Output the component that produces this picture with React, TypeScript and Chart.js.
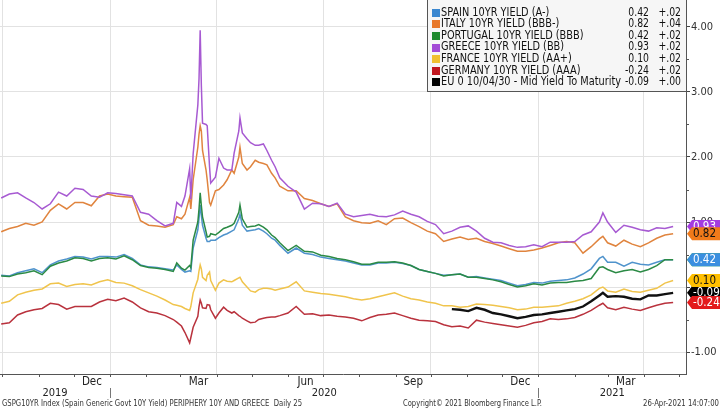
import React, { useEffect, useRef } from "react";
import { Chart, registerables } from "chart.js";

Chart.register(...registerables);

// ---------------- DATA ----------------
const dates: string[] = [
  "2019-09-30", "2019-10-07", "2019-10-14", "2019-10-21", "2019-10-28", "2019-11-04", "2019-11-11", "2019-11-18",
  "2019-11-25", "2019-12-02", "2019-12-09", "2019-12-16", "2019-12-23", "2019-12-30", "2020-01-06", "2020-01-13",
  "2020-01-20", "2020-01-27", "2020-02-03", "2020-02-10", "2020-02-17", "2020-02-24",
  "2020-02-27", "2020-03-02", "2020-03-05", "2020-03-09", "2020-03-10", "2020-03-12", "2020-03-16", "2020-03-17",
  "2020-03-18", "2020-03-19", "2020-03-20", "2020-03-23", "2020-03-24", "2020-03-26", "2020-03-27", "2020-03-31",
  "2020-04-03", "2020-04-07", "2020-04-10", "2020-04-14", "2020-04-16", "2020-04-20", "2020-04-21", "2020-04-23",
  "2020-04-27", "2020-04-30", "2020-05-04", "2020-05-07", "2020-05-11", "2020-05-14", "2020-05-18", "2020-05-21",
  "2020-05-25", "2020-06-01", "2020-06-08", "2020-06-15", "2020-06-22", "2020-06-29", "2020-07-06", "2020-07-13",
  "2020-07-20", "2020-07-27", "2020-08-03", "2020-08-10", "2020-08-17", "2020-08-24", "2020-08-31", "2020-09-07",
  "2020-09-14", "2020-09-21", "2020-09-28", "2020-10-05", "2020-10-12",
  "2020-10-19", "2020-10-26", "2020-11-02", "2020-11-09", "2020-11-16", "2020-11-23", "2020-11-30", "2020-12-07",
  "2020-12-14", "2020-12-21", "2020-12-28", "2021-01-04", "2021-01-11", "2021-01-18", "2021-01-25", "2021-02-01",
  "2021-02-08", "2021-02-15", "2021-02-22", "2021-02-25", "2021-03-01", "2021-03-08", "2021-03-15", "2021-03-22",
  "2021-03-29", "2021-04-05", "2021-04-12", "2021-04-19", "2021-04-26",
];

const spain: number[] = [
  0.18, 0.17, 0.22, 0.25, 0.28, 0.22, 0.34, 0.40, 0.43, 0.47, 0.46, 0.43, 0.47, 0.47, 0.46, 0.50, 0.44, 0.34, 0.31, 0.30, 0.28, 0.26,
  0.34, 0.27, 0.23, 0.25, 0.24, 0.60, 0.88, 1.05, 1.26, 1.10, 0.95, 0.75, 0.70, 0.70, 0.72, 0.72, 0.76, 0.80, 0.82, 0.86, 0.88, 1.05, 1.12, 0.95,
  0.86, 0.87, 0.88, 0.90, 0.86, 0.82, 0.75, 0.72, 0.64, 0.52, 0.60, 0.52, 0.50, 0.46, 0.44, 0.42, 0.40, 0.37, 0.34, 0.34, 0.37, 0.37, 0.38, 0.36, 0.33, 0.27, 0.24, 0.21, 0.18,
  0.19, 0.20, 0.15, 0.16, 0.14, 0.12, 0.10, 0.06, 0.02, 0.04, 0.07, 0.06, 0.09, 0.10, 0.11, 0.14, 0.20, 0.28, 0.44, 0.47, 0.38, 0.38, 0.32, 0.38, 0.35, 0.34, 0.38, 0.42, 0.42,
];
const italy: number[] = [
  0.85, 0.90, 0.93, 0.98, 0.95, 1.00, 1.18, 1.28, 1.20, 1.30, 1.30, 1.25, 1.40, 1.43, 1.40, 1.39, 1.38, 1.02, 0.95, 0.94, 0.92, 0.96,
  1.08, 1.05, 1.12, 1.38, 1.20, 1.65, 2.15, 2.35, 2.48, 2.40, 2.10, 1.80, 1.65, 1.30, 1.26, 1.48, 1.50, 1.57, 1.65, 1.80, 1.75, 2.00, 2.15, 1.90,
  1.80, 1.85, 1.95, 1.92, 1.90, 1.88, 1.75, 1.68, 1.55, 1.48, 1.48, 1.36, 1.33, 1.28, 1.24, 1.28, 1.08, 1.02, 0.99, 0.98, 1.02, 0.96, 1.05, 1.06, 0.99, 0.93, 0.86, 0.82, 0.70,
  0.74, 0.77, 0.73, 0.75, 0.70, 0.67, 0.63, 0.59, 0.55, 0.55, 0.57, 0.60, 0.64, 0.68, 0.70, 0.68, 0.52, 0.62, 0.74, 0.78, 0.68, 0.63, 0.72, 0.66, 0.62, 0.68, 0.75, 0.80, 0.82,
];
const portugal: number[] = [
  0.17, 0.16, 0.20, 0.22, 0.25, 0.19, 0.32, 0.37, 0.40, 0.45, 0.44, 0.40, 0.44, 0.45, 0.43, 0.48, 0.42, 0.33, 0.30, 0.29, 0.27, 0.24,
  0.37, 0.29, 0.26, 0.33, 0.30, 0.72, 1.00, 1.20, 1.45, 1.25, 1.08, 0.85, 0.77, 0.78, 0.82, 0.80, 0.84, 0.90, 0.92, 0.95, 0.98, 1.15, 1.26, 1.05,
  0.92, 0.93, 0.94, 0.96, 0.92, 0.88, 0.80, 0.76, 0.68, 0.56, 0.64, 0.55, 0.54, 0.49, 0.47, 0.44, 0.42, 0.39, 0.35, 0.35, 0.38, 0.38, 0.39, 0.37, 0.33, 0.27, 0.24, 0.21, 0.17,
  0.19, 0.20, 0.15, 0.15, 0.13, 0.11, 0.08, 0.04, 0.00, 0.02, 0.05, 0.03, 0.06, 0.07, 0.07, 0.09, 0.10, 0.13, 0.30, 0.31, 0.27, 0.22, 0.25, 0.27, 0.23, 0.27, 0.33, 0.42, 0.42,
];
const greece: number[] = [
  1.37, 1.43, 1.45, 1.37, 1.30, 1.20, 1.28, 1.46, 1.40, 1.52, 1.50, 1.40, 1.38, 1.45, 1.44, 1.42, 1.40, 1.15, 1.12, 1.02, 0.94, 0.98,
  1.30, 1.24, 1.40, 1.82, 1.35, 2.05, 2.80, 3.20, 3.95, 3.10, 2.52, 2.50, 2.48, 1.85, 1.60, 1.69, 1.98, 1.83, 1.80, 1.80, 2.06, 2.40, 2.60, 2.37,
  2.28, 2.22, 2.18, 2.18, 2.20, 2.10, 1.95, 1.85, 1.68, 1.55, 1.46, 1.20, 1.29, 1.28, 1.24, 1.29, 1.12, 1.08, 1.10, 1.12, 1.09, 1.08, 1.11, 1.17, 1.12, 1.08, 1.01, 0.96, 0.82,
  0.86, 0.92, 0.94, 0.86, 0.75, 0.69, 0.68, 0.64, 0.61, 0.62, 0.65, 0.62, 0.69, 0.69, 0.69, 0.70, 0.80, 0.85, 1.00, 1.14, 1.00, 0.84, 0.95, 0.92, 0.88, 0.86, 0.91, 0.90, 0.93,
];
const france: number[] = [
  -0.25, -0.22, -0.12, -0.08, -0.05, -0.03, 0.05, 0.06, 0.01, 0.04, 0.05, 0.03, 0.08, 0.11, 0.07, 0.06, 0.02, -0.04, -0.09, -0.14, -0.20, -0.27,
  -0.28, -0.30, -0.33, -0.36, -0.30, -0.09, 0.12, 0.25, 0.34, 0.28, 0.15, 0.10, 0.18, 0.23, 0.10, -0.05, 0.06, 0.11, 0.09, 0.08, 0.10, 0.14, 0.15, 0.08,
  0.00, -0.06, -0.08, -0.04, -0.02, -0.02, -0.03, -0.05, -0.03, 0.00, 0.08, -0.06, -0.08, -0.10, -0.11, -0.13, -0.15, -0.18, -0.20, -0.18, -0.15, -0.12, -0.09, -0.14, -0.18, -0.20, -0.23, -0.25, -0.29,
  -0.29, -0.31, -0.30, -0.26, -0.27, -0.28, -0.30, -0.32, -0.35, -0.34, -0.31, -0.31, -0.30, -0.29, -0.25, -0.22, -0.18, -0.12, -0.02, 0.00, -0.06, -0.08, -0.03, -0.07, -0.08, -0.05, -0.02, 0.06, 0.10,
];
const germany: number[] = [
  -0.57, -0.55, -0.43, -0.38, -0.35, -0.33, -0.25, -0.27, -0.34, -0.30, -0.30, -0.30, -0.23, -0.19, -0.21, -0.17, -0.23, -0.32, -0.38, -0.40, -0.44, -0.50,
  -0.54, -0.60, -0.70, -0.86, -0.78, -0.62, -0.45, -0.30, -0.20, -0.25, -0.32, -0.33, -0.27, -0.28, -0.35, -0.48, -0.40, -0.31, -0.36, -0.40, -0.38, -0.44, -0.45, -0.48,
  -0.52, -0.55, -0.54, -0.50, -0.48, -0.47, -0.46, -0.46, -0.44, -0.40, -0.30, -0.42, -0.41, -0.44, -0.43, -0.45, -0.46, -0.48, -0.52, -0.47, -0.43, -0.42, -0.40, -0.44, -0.48, -0.51, -0.52, -0.53, -0.58,
  -0.61, -0.60, -0.63, -0.51, -0.54, -0.56, -0.58, -0.60, -0.62, -0.59, -0.55, -0.53, -0.49, -0.50, -0.49, -0.47, -0.42, -0.36, -0.28, -0.25, -0.32, -0.35, -0.31, -0.34, -0.36, -0.32, -0.28, -0.25, -0.24,
];
// EU bond series begins later than the others
const euFirstDate = "2020-10-19";
const euBond: number[] = [
  -0.34, -0.35, -0.37, -0.32, -0.35, -0.40, -0.42, -0.45, -0.48, -0.46, -0.43, -0.42, -0.40, -0.38, -0.36,
  -0.34, -0.30, -0.22, -0.13, -0.09, -0.15, -0.14, -0.15, -0.18, -0.19, -0.13, -0.13, -0.11, -0.09,
];

const seriesNames = [
  "SPAIN 10YR YIELD (A-)",
  "ITALY 10YR YIELD (BBB-)",
  "PORTUGAL 10YR YIELD (BBB)",
  "GREECE 10YR YIELD (BB)",
  "FRANCE 10YR YIELD (AA+)",
  "GERMANY 10YR YIELD (AAA)",
  "EU 0 10/04/30 - Mid Yield To Maturity",
];
const lastValues = ["0.42", "0.82", "0.42", "0.93", "0.10", "-0.24", "-0.09"];
const netChanges = ["+.02", "+.04", "+.02", "+.02", "+.02", "+.02", "+.00"];

const monthLabels = ["Dec", "Mar", "Jun", "Sep", "Dec", "Mar"];
const monthLabelMonths = ["2019-12", "2020-03", "2020-06", "2020-09", "2020-12", "2021-03"];
const yearLabels = ["2019", "2020", "2021"];
const yearStarts = ["2020-01-01", "2021-01-01"];
const quarterStarts = ["2019-10-01", "2020-01-01", "2020-04-01", "2020-07-01", "2020-10-01", "2021-01-01", "2021-04-01"];
const yTickValues = [-1, 0, 1, 2, 3, 4];
const yMinorTicks = [-0.5, 0.5, 1.5, 2.5, 3.5];
const xStart = "2019-09-29";
const xEnd = "2021-05-07";
const yMin = -1.338;
const yMax = 4.415;

const footerLeft = "GSPG10YR Index (Spain Generic Govt 10Y Yield) PERIPHERY 10Y AND GREECE  Daily 25";
const footerCenter = "Copyright\u00A9 2021 Bloomberg Finance L.P.";
const footerRight = "26-Apr-2021 14:07:00";

// ---------------- STYLE ----------------
const lineColors = ["#4f93cc", "#e0843e", "#2b8a45", "#a75ad2", "#f0c44c", "#b9323d", "#111111"];
const keyColors = ["#3a87d0", "#e8782a", "#1e8a2e", "#a34ad6", "#f0c030", "#c0161e", "#000000"];
const tagColors = ["#3b8fe0", "#f07a1a", "#1e9e3a", "#a43ce0", "#ffbf00", "#e31a1c", "#000000"];
const tagText = ["#fff", "#111", "#fff", "#fff", "#111", "#fff", "#fff"];
const FONT = '"DejaVu Sans Condensed", "DejaVu Sans", "Liberation Sans", sans-serif';

const DAY0 = Date.UTC(2020, 0, 1);
function dayOf(s: string): number {
  const p = s.split("-").map(Number);
  return (Date.UTC(p[0], p[1] - 1, p[2] || 1) - DAY0) / 86400000;
}

function drawScaled(ctx: CanvasRenderingContext2D, text: string, x: number, y: number, sx: number, align: CanvasTextAlign) {
  ctx.save();
  ctx.translate(x, y);
  ctx.scale(sx, 1);
  ctx.textAlign = align;
  ctx.fillText(text, 0, 0);
  ctx.restore();
}

const overlayPlugin = {
  id: "bbgOverlay",
  beforeDraw(chart: any) {
    const { ctx, width, height } = chart;
    ctx.save();
    ctx.fillStyle = "#ffffff";
    ctx.fillRect(0, 0, width, height);
    ctx.restore();
  },
  afterDraw(chart: any) {
    const ctx: CanvasRenderingContext2D = chart.ctx;
    const xs = chart.scales.x;
    const ys = chart.scales.y;
    const { bottom, right } = chart.chartArea;
    const W = chart.width;
    ctx.save();
    ctx.textBaseline = "middle";

    // month ticks on x axis
    ctx.strokeStyle = "#555";
    ctx.lineWidth = 1;
    const dMin = dayOf(xStart), dMax = dayOf(xEnd);
    for (let k = 0; k < 22; k++) {
      const yy = 2019 + Math.floor((9 + k) / 12);
      const mm = (9 + k) % 12;
      const d = (Date.UTC(yy, mm, 1) - DAY0) / 86400000;
      if (d < dMin || d > dMax) continue;
      const px = Math.round(xs.getPixelForValue(d)) + 0.5;
      ctx.beginPath();
      ctx.moveTo(px, bottom);
      ctx.lineTo(px, bottom + 3);
      ctx.stroke();
    }

    // month labels (centered on the month)
    ctx.fillStyle = "#222";
    ctx.font = `11.5px ${FONT}`;
    ctx.textAlign = "center";
    monthLabelMonths.forEach((m, i) => {
      const p = m.split("-").map(Number);
      const a = (Date.UTC(p[0], p[1] - 1, 1) - DAY0) / 86400000;
      const b = (Date.UTC(p[0], p[1], 1) - DAY0) / 86400000;
      ctx.fillText(monthLabels[i], xs.getPixelForValue((a + b) / 2), bottom + 8);
    });

    // year labels and separators
    const bounds = [dMin, ...yearStarts.map(dayOf), dMax];
    ctx.font = `11px ${FONT}`;
    yearLabels.forEach((y, i) => {
      const cx = (xs.getPixelForValue(bounds[i]) + xs.getPixelForValue(bounds[i + 1])) / 2;
      ctx.fillText(y, cx, bottom + 19);
    });
    ctx.strokeStyle = "#777";
    yearStarts.forEach((s) => {
      const px = Math.round(xs.getPixelForValue(dayOf(s))) + 0.5;
      ctx.beginPath();
      ctx.moveTo(px, bottom + 14);
      ctx.lineTo(px, bottom + 24);
      ctx.stroke();
    });

    // footer
    ctx.fillStyle = "#333";
    ctx.font = `8px ${FONT}`;
    const fl = ctx.measureText(footerLeft).width;
    drawScaled(ctx, footerLeft, 2, bottom + 30, 300 / fl, "left");
    const fc = ctx.measureText(footerCenter).width;
    drawScaled(ctx, footerCenter, 403, bottom + 30, 139 / fc, "left");
    const fr = ctx.measureText(footerRight).width;
    drawScaled(ctx, footerRight, W - 1, bottom + 30, 76 / fr, "right");

    // minor y ticks
    ctx.strokeStyle = "#555";
    yMinorTicks.forEach((v) => {
      const py = Math.round(ys.getPixelForValue(v)) + 0.5;
      ctx.beginPath();
      ctx.moveTo(right, py);
      ctx.lineTo(right + 3, py);
      ctx.stroke();
    });

    // legend box
    const lx = 427.5, ly = -0.5, lw = right - 427, lh = 92;
    ctx.fillStyle = "#f6f6f6";
    ctx.fillRect(lx, ly, lw, lh);
    ctx.strokeStyle = "#555";
    ctx.strokeRect(lx, ly, lw, lh);
    ctx.font = `11.5px ${FONT}`;
    const sx = 180 / ctx.measureText(seriesNames[6]).width;
    seriesNames.forEach((name, i) => {
      const cy = 12.7 + i * 11.6;
      ctx.fillStyle = keyColors[i];
      ctx.fillRect(432, Math.round(cy - 4), 8, 8);
      ctx.fillStyle = "#111";
      drawScaled(ctx, name, 441, cy, sx, "left");
      drawScaled(ctx, lastValues[i], 649, cy, 0.9, "right");
      drawScaled(ctx, netChanges[i], 681, cy, 0.9, "right");
    });

    // value tags on the right axis (reverse legend order so first entries sit on top)
    ctx.font = `11.5px ${FONT}`;
    for (let i = seriesNames.length - 1; i >= 0; i--) {
      const v = parseFloat(lastValues[i]);
      const cy = ys.getPixelForValue(v);
      ctx.fillStyle = tagColors[i];
      ctx.beginPath();
      ctx.moveTo(right + 1, cy);
      ctx.lineTo(right + 6, cy - 6.5);
      ctx.lineTo(W, cy - 6.5);
      ctx.lineTo(W, cy + 6.5);
      ctx.lineTo(right + 6, cy + 6.5);
      ctx.closePath();
      ctx.fill();
      ctx.fillStyle = tagText[i];
      ctx.textAlign = "left";
      ctx.fillText(lastValues[i], right + 7, cy + 0.5);
    }
    ctx.restore();
  },
};

export default function App() {
  const canvasRef = useRef<HTMLCanvasElement | null>(null);

  useEffect(() => {
    document.body.style.margin = "0";
    const canvas = canvasRef.current;
    if (!canvas) return;
    Chart.defaults.font.family = FONT;

    const toPoints = (vals: number[], first = 0) =>
      vals.map((v, i) => ({ x: dayOf(dates[first + i]), y: v }));
    const euStart = dates.indexOf(euFirstDate);
    const allSeries = [spain, italy, portugal, greece, france, germany];

    const datasets: any[] = allSeries.map((vals, i) => ({
      label: seriesNames[i],
      data: toPoints(vals),
      borderColor: lineColors[i],
      borderWidth: 1.5,
      pointRadius: 0,
      tension: 0,
      order: 7 - i,
    }));
    datasets.push({
      label: seriesNames[6],
      data: toPoints(euBond, euStart),
      borderColor: lineColors[6],
      borderWidth: 2.4,
      pointRadius: 0,
      tension: 0,
      order: 1,
    });

    const chart = new Chart(canvas, {
      type: "line",
      data: { datasets },
      options: {
        responsive: false,
        animation: false,
        parsing: false as any,
        normalized: true,
        layout: { padding: 0 },
        plugins: { legend: { display: false }, tooltip: { enabled: false } },
        scales: {
          x: {
            type: "linear",
            min: dayOf(xStart),
            max: dayOf(xEnd),
            afterBuildTicks: (s: any) => {
              s.ticks = quarterStarts.map((q) => ({ value: dayOf(q) }));
            },
            ticks: { display: false },
            grid: { color: "#e2e2e2", drawTicks: false, lineWidth: 1 },
            border: { color: "#555", width: 1 },
            afterFit: (s: any) => {
              s.height = 35;
              s.paddingLeft = 0;
              s.paddingRight = 0;
            },
          },
          y: {
            type: "linear",
            position: "right",
            min: yMin,
            max: yMax,
            afterBuildTicks: (s: any) => {
              s.ticks = yTickValues.map((v) => ({ value: v }));
            },
            ticks: {
              callback: (v: any) => Number(v).toFixed(2),
              font: { family: FONT, size: 11 },
              color: "#333",
              padding: 1,
            },
            grid: { color: "#e2e2e2", tickLength: 4, tickColor: "#444", drawTicks: true },
            border: { color: "#555", width: 1 },
            afterFit: (s: any) => {
              s.width = 34;
              s.paddingTop = 0;
              s.paddingBottom = 0;
            },
          },
        },
      },
      plugins: [overlayPlugin],
    });
    return () => chart.destroy();
  }, []);

  return (
    <div style={{ position: "absolute", left: 0, top: 0, width: 720, height: 409 }}>
      <canvas ref={canvasRef} width={720} height={409} />
    </div>
  );
}
